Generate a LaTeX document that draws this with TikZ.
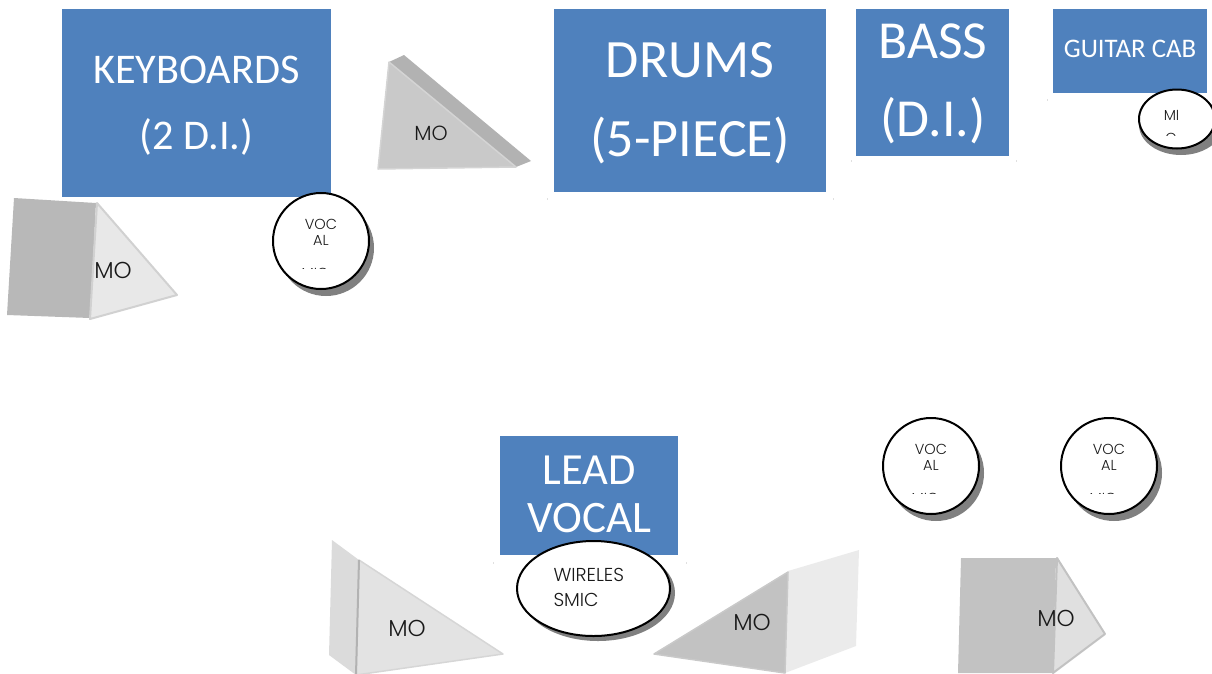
\documentclass[tikz,border=0pt]{standalone}
\usepackage{fontspec}
\setmainfont{Poppins Light}
\newfontfamily\boxfont{Carlito}
\definecolor{boxblue}{HTML}{4F81BD}
\tikzset{
  every node/.style={inner sep=0pt,outer sep=0pt},
  boxtext/.style={text=white,font=\boxfont,align=center,anchor=center},
  montext/.style={text=black!90,font=\fontsize{23}{27}\selectfont,anchor=center},
  mictext/.style={text=black!90,font=\fontsize{14.5}{16}\selectfont,align=center,anchor=center},
  micround/.style={draw=black,line width=2pt,fill=white},
  micshade/.style={fill=black!50},
  wedgeedge/.style={line width=1.5pt,line join=round},
  tick/.style={draw=black!12,line width=.5pt}
}
\begin{document}
\begin{tikzpicture}[x=1pt,y=-1pt]
\useasboundingbox (0,0) rectangle (1212,673);
% stage boxes
\fill[boxblue] (62,9) rectangle (331,197);
\fill[boxblue] (554,9) rectangle (826,192);
\fill[boxblue] (856,9) rectangle (1009,156);
\fill[boxblue] (1053,9) rectangle (1207,93);
\fill[boxblue] (500,436) rectangle (678,555);
\node[boxtext,font=\boxfont\fontsize{42.3}{50}\selectfont] (kb1) at (196.5,70) {KEYBOARDS};
\node[boxtext,font=\boxfont\fontsize{42.3}{50}\selectfont] (kb2) at (196.5,137) {(2 D.I.)};
\node[boxtext,font=\boxfont\fontsize{54}{64}\selectfont] (dr1) at (690,60) {DRUMS};
\node[boxtext,font=\boxfont\fontsize{54}{64}\selectfont] (dr2) at (690,140) {(5-PIECE)};
\node[boxtext,font=\boxfont\fontsize{53.5}{64}\selectfont] (ba1) at (933,41) {BASS};
\node[boxtext,font=\boxfont\fontsize{53.5}{64}\selectfont] (ba2) at (933,121) {(D.I.)};
\node[boxtext,font=\boxfont\fontsize{26.8}{32}\selectfont] (gc) at (1130,49) {GUITAR CAB};
\node[boxtext,font=\boxfont\fontsize{44.5}{54}\selectfont] (lv1) at (589.5,470) {LEAD};
\node[boxtext,font=\boxfont\fontsize{45}{54}\selectfont] (lv2) at (589.5,518) {VOCAL};
% faint marks
\foreach \a/\b in {547/198,833/198,851/160,1016/160,1047/99,493/562,686/562}
  \draw[tick] (\a,\b) -- ++(0,2);
% monitor top
\fill[black!30] (389,62) -- (404,55) -- (531,161) -- (516,167) -- cycle;
\filldraw[fill=black!21,draw=black!17,wedgeedge] (389,62) -- (378,169) -- (516,167) -- cycle;
\node[montext,font=\fontsize{20.5}{24}\selectfont] (m1) at (431,133.5) {MO};
% monitor left
\fill[black!28] (14,198) -- (96,203) -- (90,318) -- (7,315) -- cycle;
\filldraw[fill=black!9,draw=black!18,wedgeedge,line width=2pt] (97,203) -- (177,295) -- (90,319) -- cycle;
\node[montext] (m2) at (113,270.5) {MO};
% monitor bottom 1
\fill[black!14] (332,540) -- (359,560) -- (356,675) -- (329,655) -- cycle;
\filldraw[fill=black!11,draw=black!16,wedgeedge] (359,560) -- (503,654) -- (356,675) -- cycle;
\draw[black!30,line width=2pt] (359,560) -- (356,675);
\node[montext] (m3) at (407,628) {MO};
% monitor bottom 2
\fill[black!8] (788,571) -- (859,550) -- (856,646) -- (785,673) -- cycle;
\filldraw[fill=black!24,draw=black!21,wedgeedge] (788,572) -- (654,654) -- (785,673) -- cycle;
\node[montext] (m4) at (752,622) {MO};
% monitor bottom 3
\fill[black!24] (961,558) -- (1056,558) -- (1053,673) -- (958,673) -- cycle;
\filldraw[fill=black!12,draw=black!24,wedgeedge,line width=2pt] (1057,558) -- (1105,634) -- (1053,673) -- cycle;
\node[montext] (m5) at (1056,618.5) {MO};
% vocal mics
\foreach \n/\x/\y in {a/321/241,b/931/466,c/1109/466}{
  \fill[micshade] (\x+5,\y+7) ellipse [x radius=48,y radius=48];
  \filldraw[micround] (\x,\y) ellipse [x radius=48,y radius=48];
  \node[mictext] (v\n) at (\x,\y-9) {VOC\\AL};
  \begin{scope}
    \clip (\x-30,\y+20) rectangle (\x+20,\y+27);
    \node[mictext] (w\n) at (\x-6,\y+32) {MIC};
  \end{scope}
}
% guitar mic
\fill[micshade] (1181,125) ellipse [x radius=42,y radius=30];
\filldraw[micround] (1177,119) ellipse [x radius=38,y radius=29.5];
\node[mictext] (gm) at (1171.5,115.5) {MI};
\begin{scope}
  \clip (1160,127) rectangle (1185,135);
  \node[mictext] (gn) at (1171,138) {C};
\end{scope}
% wireless mic
\fill[micshade] (598,593) ellipse [x radius=77,y radius=48];
\filldraw[micround] (593.5,588.5) ellipse [x radius=76.5,y radius=47.5];
\node[mictext,font=\fontsize{18.7}{25.5}\selectfont,align=left,anchor=west] (wl) at (553.5,587.5) {WIRELES\\SMIC};
\end{tikzpicture}
\end{document}
